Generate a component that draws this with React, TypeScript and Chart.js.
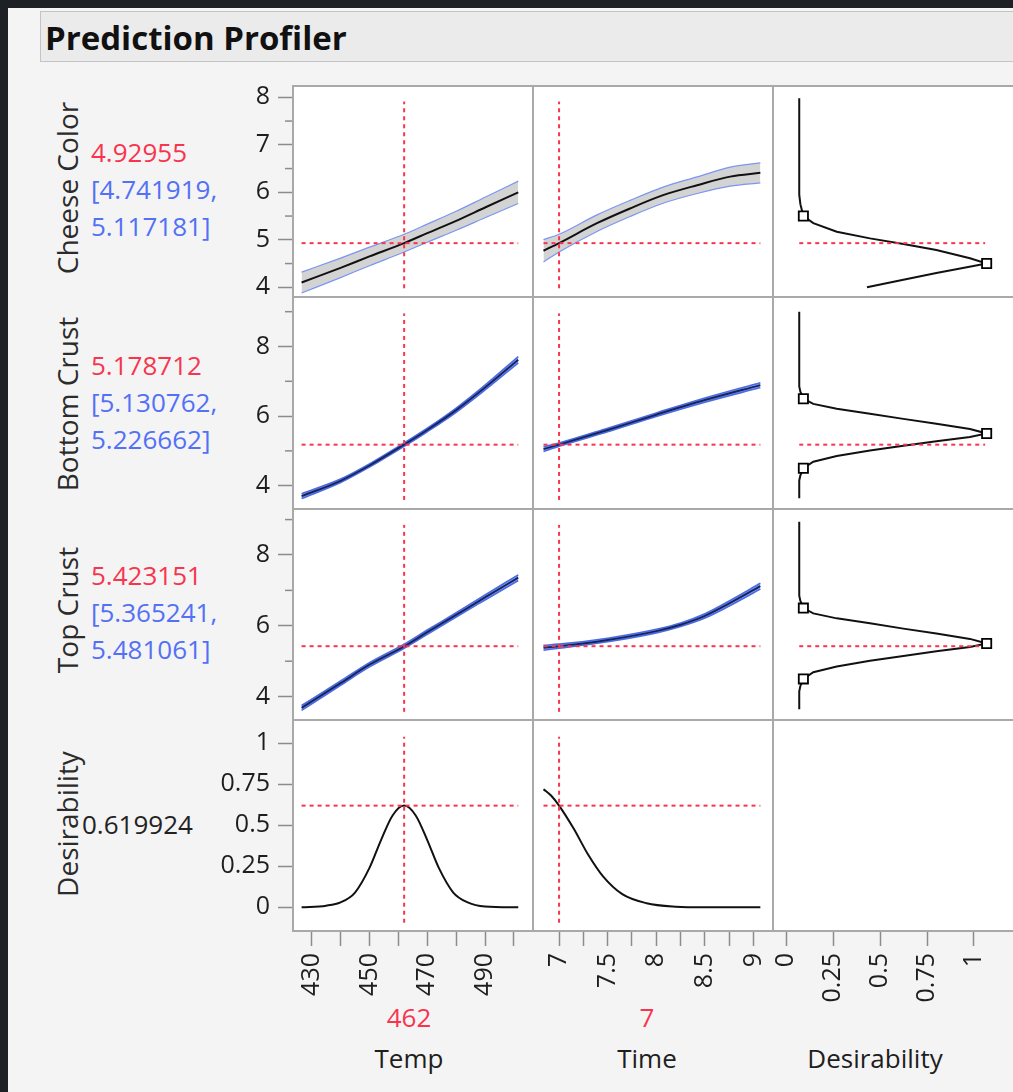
import React, { useEffect, useRef } from "react";
import { Chart, registerables } from "chart.js";
Chart.register(...registerables);

// ---------------- data ----------------
const currentTemp = 462;
const currentTime = 7;
const predicted = [4.92955, 5.178712, 5.423151, 0.619924];
const ciLow = ["4.741919", "5.130762", "5.365241"];
const ciHigh = ["5.117181", "5.226662", "5.481061"];
const predictedText = ["4.92955", "5.178712", "5.423151", "0.619924"];
const responses = ["Cheese Color", "Bottom Crust", "Top Crust", "Desirability"];
const factors = ["Temp", "Time", "Desirability"];
const factorValues = ["462", "7", ""];

const tempPts = [426.5, 440, 450, 462, 470, 480, 490, 501.5];
const cheeseTemp = [4.1, 4.41, 4.65, 4.93, 5.14, 5.4, 5.68, 6.0];
const cheeseTempLo = [3.88, 4.205, 4.455, 4.742, 4.95, 5.2, 5.465, 5.765];
const cheeseTempHi = [4.32, 4.615, 4.845, 5.117, 5.33, 5.6, 5.895, 6.235];

const timePtsA = [6.84, 7.0, 7.39, 7.73, 8.07, 8.42, 8.76, 9.07];
const cheeseTime = [4.77, 4.93, 5.35, 5.66, 5.94, 6.15, 6.33, 6.41];
const cheeseTimeLo = [4.535, 4.742, 5.175, 5.49, 5.77, 5.975, 6.13, 6.2];
const cheeseTimeHi = [5.005, 5.117, 5.525, 5.83, 6.11, 6.325, 6.53, 6.62];

const bottomTemp = [3.7, 4.14, 4.58, 5.18, 5.6, 6.17, 6.82, 7.62];
const bottomTempLo = [3.63, 4.09, 4.535, 5.131, 5.55, 6.11, 6.75, 7.53];
const bottomTempHi = [3.77, 4.19, 4.625, 5.227, 5.65, 6.23, 6.89, 7.71];

const timePtsB = [6.84, 7.0, 7.5, 8.0, 8.5, 9.07];
const bottomTime = [5.05, 5.18, 5.6, 6.04, 6.46, 6.89];
const bottomTimeLo = [4.98, 5.131, 5.55, 5.99, 6.4, 6.82];
const bottomTimeHi = [5.12, 5.227, 5.65, 6.09, 6.52, 6.96];

const topTemp = [3.68, 4.38, 4.9, 5.42, 5.82, 6.31, 6.8, 7.36];
const topTempLo = [3.61, 4.32, 4.84, 5.365, 5.76, 6.25, 6.73, 7.28];
const topTempHi = [3.75, 4.44, 4.96, 5.481, 5.88, 6.37, 6.87, 7.44];

const timePtsC = [6.84, 7.0, 7.5, 8.0, 8.25, 8.5, 8.75, 9.07];
const topTime = [5.38, 5.42, 5.6, 5.85, 6.03, 6.28, 6.63, 7.12];
const topTimeLo = [5.31, 5.365, 5.55, 5.8, 5.98, 6.22, 6.56, 7.04];
const topTimeHi = [5.45, 5.481, 5.65, 5.9, 6.08, 6.34, 6.7, 7.2];

const tempPtsD = [426.5, 435, 440, 445, 450, 454, 458, 462, 466, 470, 474, 479, 484, 490, 501.5];
const desTemp = [0, 0.01, 0.03, 0.09, 0.24, 0.41, 0.56, 0.62, 0.56, 0.41, 0.24, 0.09, 0.03, 0.005, 0];
const timePtsD = [6.84, 6.92, 7.0, 7.15, 7.3, 7.45, 7.65, 7.9, 8.2, 8.5, 9.07];
const desTime = [0.72, 0.68, 0.62, 0.48, 0.32, 0.19, 0.08, 0.025, 0.004, 0, 0];

// desirability functions (x = desirability, y = response)
const cheeseDesD = [0.069, 0.069, 0.075, 0.091, 0.144, 0.269, 0.446, 0.624, 0.8, 0.979, 1.068, 0.8, 0.624, 0.43];
const cheeseDesV = [7.98, 5.95, 5.75, 5.5, 5.35, 5.17, 5.03, 4.91, 4.785, 4.61, 4.5, 4.3, 4.16, 4.0];
const crustDesD = [0.069, 0.069, 0.075, 0.091, 0.144, 0.269, 0.446, 0.624, 0.8, 0.979, 1.068, 0.979, 0.8, 0.624, 0.446, 0.269, 0.144, 0.091, 0.075, 0.069, 0.069];
const bottomDesV = [9.0, 6.85, 6.7, 6.5, 6.35, 6.21, 6.07, 5.92, 5.78, 5.63, 5.5, 5.4, 5.28, 5.15, 5.01, 4.85, 4.69, 4.5, 4.3, 4.15, 3.64];
const topDesV = [8.94, 6.85, 6.7, 6.5, 6.35, 6.21, 6.07, 5.92, 5.78, 5.63, 5.5, 5.4, 5.28, 5.15, 5.01, 4.85, 4.69, 4.5, 4.3, 4.15, 3.64];
const cheeseSqD = [0.091, 1.068];
const cheeseSqV = [5.5, 4.5];
const crustSqD = [0.091, 1.068, 0.091];
const crustSqV = [6.5, 5.5, 4.5];

// crosshair extents
const vLineLo = [3.98, 3.59, 3.57, -0.094];
const vLineHi = [7.91, 8.95, 8.85, 1.04];
const tempSpan = [426.5, 501.5];
const timeSpan = [6.84, 9.07];
const desSpan = [0.069, 1.06];

// axes
const tempRange = [423.53, 506.6];
const timeRange = [6.732, 9.2];
const desRange = [-0.0709, 1.2457];
const rowRanges = [
  [3.796, 8.238],
  [3.33, 9.422],
  [3.339, 9.299],
  [-0.1445, 1.142],
];
const tempTicks = [430, 440, 450, 460, 470, 480, 490, 500];
const tempTickLabels = ["430", "", "450", "", "470", "", "490", ""];
const timeTicks = [7, 7.25, 7.5, 7.75, 8, 8.25, 8.5, 8.75, 9];
const timeTickLabels = ["7", "", "7.5", "", "8", "", "8.5", "", "9"];
const desTicks = [0, 0.25, 0.5, 0.75, 1];
const desTickLabels = ["0", "0.25", "0.5", "0.75", "1"];
const cheeseTicks = [4, 5, 6, 7, 8];
const cheeseTickLabels = ["4", "5", "6", "7", "8"];
const cheeseMinor = [4.5, 5.5, 6.5, 7.5];
const crustTicks = [4, 6, 8];
const crustTickLabels = ["4", "6", "8"];
const crustMinor = [5, 7, 9];
const desYTicks = [0, 0.25, 0.5, 0.75, 1];
const desYTickLabels = ["0", "0.25", "0.5", "0.75", "1"];

// ---------------- styling / layout ----------------
const FONT = '"Open Sans", "Noto Sans", sans-serif';
const RED = "#f8354f";
const BLUE_TXT = "#5370f6";
const FRAME = "#a9a9a9";
const TICK = "#8c8c8c";
const COLS = [
  [293, 533],
  [533, 773],
  [773, 1020],
];
const ROWS = [
  [86, 297],
  [297, 509],
  [509, 720],
  [720, 931],
];
const AXW = 90;
const AXH = 80;
const M = 30;

const pts = (xs: number[], ys: number[]) => xs.map((x, i) => ({ x, y: ys[i] }));

function crossV(x: number, lo: number, hi: number) {
  return {
    data: [
      { x, y: lo },
      { x, y: hi },
    ],
    borderColor: RED,
    borderWidth: 2,
    borderDash: [4, 4],
    pointRadius: 0,
    tension: 0,
    fill: false,
  };
}
function crossH(span: number[], y: number) {
  return {
    data: [
      { x: span[0], y },
      { x: span[1], y },
    ],
    borderColor: RED,
    borderWidth: 2,
    borderDash: [4, 4],
    pointRadius: 0,
    tension: 0,
    fill: false,
  };
}
function curve(xs: number[], ys: number[], color = "#111111") {
  return {
    data: pts(xs, ys),
    borderColor: color,
    borderWidth: 2,
    pointRadius: 0,
    cubicInterpolationMode: "monotone",
    fill: false,
  };
}
function bandLines(xs: number[], lo: number[], hi: number[], narrow: boolean) {
  const line = narrow ? "#4a6be4" : "#7b96f0";
  const fillC = narrow ? "rgba(74,107,228,0.6)" : "#d3d3d3";
  return [
    {
      data: pts(xs, hi),
      borderColor: line,
      borderWidth: narrow ? 1.6 : 1.2,
      backgroundColor: fillC,
      fill: "+1",
      pointRadius: 0,
      cubicInterpolationMode: "monotone",
    },
    {
      data: pts(xs, lo),
      borderColor: line,
      borderWidth: narrow ? 1.6 : 1.2,
      fill: false,
      pointRadius: 0,
      cubicInterpolationMode: "monotone",
    },
  ];
}
function desCurve(ds: number[], vs: number[]) {
  return {
    data: pts(ds, vs),
    borderColor: "#111111",
    borderWidth: 2,
    pointRadius: 0,
    tension: 0,
    fill: false,
  };
}
function squares(ds: number[], vs: number[]) {
  return {
    data: pts(ds, vs),
    showLine: false,
    pointStyle: "rect",
    pointRadius: 6.5,
    pointBackgroundColor: "#ffffff",
    pointBorderColor: "#000000",
    pointBorderWidth: 1.8,
    fill: false,
  };
}

type Spec = {
  col: number;
  row: number;
  showX: boolean;
  showY: boolean;
  xr: number[];
  yr: number[];
  xTicks: number[];
  xLabels: string[];
  yTicks: number[];
  yLabels: string[];
  yMinor: number[];
  datasets: any[];
};

const xAxes = [
  { r: tempRange, t: tempTicks, l: tempTickLabels },
  { r: timeRange, t: timeTicks, l: timeTickLabels },
  { r: desRange, t: desTicks, l: desTickLabels },
];
const yAxes = [
  { t: cheeseTicks, l: cheeseTickLabels, m: cheeseMinor },
  { t: crustTicks, l: crustTickLabels, m: crustMinor },
  { t: crustTicks, l: crustTickLabels, m: crustMinor },
  { t: desYTicks, l: desYTickLabels, m: [] as number[] },
];

const NAVY = "#16245e";
const cellData: any[][] = [
  [
    [crossV(currentTemp, vLineLo[0], vLineHi[0]), crossH(tempSpan, predicted[0]), curve(tempPts, cheeseTemp), ...bandLines(tempPts, cheeseTempLo, cheeseTempHi, false)],
    [crossV(currentTime, vLineLo[0], vLineHi[0]), crossH(timeSpan, predicted[0]), curve(timePtsA, cheeseTime), ...bandLines(timePtsA, cheeseTimeLo, cheeseTimeHi, false)],
    [squares(cheeseSqD, cheeseSqV), crossH(desSpan, predicted[0]), desCurve(cheeseDesD, cheeseDesV)],
  ],
  [
    [crossV(currentTemp, vLineLo[1], vLineHi[1]), crossH(tempSpan, predicted[1]), curve(tempPts, bottomTemp, NAVY), ...bandLines(tempPts, bottomTempLo, bottomTempHi, true)],
    [crossV(currentTime, vLineLo[1], vLineHi[1]), crossH(timeSpan, predicted[1]), curve(timePtsB, bottomTime, NAVY), ...bandLines(timePtsB, bottomTimeLo, bottomTimeHi, true)],
    [squares(crustSqD, crustSqV), crossH(desSpan, predicted[1]), desCurve(crustDesD, bottomDesV)],
  ],
  [
    [crossV(currentTemp, vLineLo[2], vLineHi[2]), crossH(tempSpan, predicted[2]), curve(tempPts, topTemp, NAVY), ...bandLines(tempPts, topTempLo, topTempHi, true)],
    [crossV(currentTime, vLineLo[2], vLineHi[2]), crossH(timeSpan, predicted[2]), curve(timePtsC, topTime, NAVY), ...bandLines(timePtsC, topTimeLo, topTimeHi, true)],
    [squares(crustSqD, crustSqV), crossH(desSpan, predicted[2]), desCurve(crustDesD, topDesV)],
  ],
  [
    [crossV(currentTemp, vLineLo[3], vLineHi[3]), crossH(tempSpan, predicted[3]), curve(tempPtsD, desTemp)],
    [crossV(currentTime, vLineLo[3], vLineHi[3]), crossH(timeSpan, predicted[3]), curve(timePtsD, desTime)],
    [],
  ],
];

const specs: Spec[] = [];
for (let r = 0; r < 4; r++) {
  for (let c = 0; c < 3; c++) {
    specs.push({
      col: c,
      row: r,
      showX: r === 3,
      showY: c === 0,
      xr: xAxes[c].r,
      yr: rowRanges[r],
      xTicks: xAxes[c].t,
      xLabels: xAxes[c].l,
      yTicks: yAxes[r].t,
      yLabels: yAxes[r].l,
      yMinor: yAxes[r].m,
      datasets: cellData[r][c],
    });
  }
}

function canvasBox(s: Spec) {
  const [x0, x1] = COLS[s.col];
  const [y0, y1] = ROWS[s.row];
  const left = s.showY ? x0 - AXW : x0 - M;
  const top = y0 - M;
  const right = x1 + M;
  const bottom = s.showX ? y1 + AXH : y1 + M;
  return { left, top, width: right - left, height: bottom - top };
}

function makeChart(canvas: HTMLCanvasElement, s: Spec) {
  const framePlugin = {
    id: "cellFrame",
    beforeDraw(chart: any) {
      const a = chart.chartArea;
      const c = chart.ctx;
      c.save();
      c.fillStyle = "#ffffff";
      c.fillRect(a.left, a.top, a.right - a.left, a.bottom - a.top);
      c.restore();
    },
    afterDraw(chart: any) {
      const a = chart.chartArea;
      const c = chart.ctx;
      c.save();
      if (s.showY) {
        const ys = chart.scales.y;
        c.strokeStyle = TICK;
        c.lineWidth = 1.5;
        s.yMinor.forEach((v) => {
          const p = ys.getPixelForValue(v);
          c.beginPath();
          c.moveTo(a.left - 8, p);
          c.lineTo(a.left, p);
          c.stroke();
        });
      }
      c.strokeStyle = FRAME;
      c.lineWidth = 2;
      c.strokeRect(a.left, a.top, a.right - a.left, a.bottom - a.top);
      c.restore();
    },
  };
  const tickFont = { family: FONT, size: 25 };
  return new Chart(canvas, {
    type: "line",
    data: { datasets: s.datasets },
    options: {
      animation: false,
      responsive: false,
      maintainAspectRatio: false,
      devicePixelRatio: 1,
      events: [],
      layout: {
        padding: { left: s.showY ? 0 : M, right: M, top: M, bottom: s.showX ? 0 : M },
      },
      plugins: {
        legend: { display: false },
        tooltip: { enabled: false },
        filler: { drawTime: "beforeDatasetsDraw" },
      },
      scales: {
        x: {
          type: "linear",
          position: "bottom",
          display: s.showX,
          min: s.xr[0],
          max: s.xr[1],
          bounds: "data",
          afterBuildTicks: (sc: any) => {
            sc.ticks = s.xTicks.map((v) => ({ value: v }));
          },
          afterFit: s.showX
            ? (sc: any) => {
                sc.height = AXH;
              }
            : undefined,
          ticks: {
            autoSkip: false,
            minRotation: 90,
            maxRotation: 90,
            padding: 7,
            color: "#1e1e1e",
            font: tickFont,
            callback: (_v: any, i: number) => s.xLabels[i],
          },
          grid: {
            drawOnChartArea: false,
            drawTicks: true,
            tickLength: 15,
            color: TICK,
            tickColor: TICK,
            tickWidth: 1.5,
          },
          border: { display: false },
        },
        y: {
          type: "linear",
          position: "left",
          display: s.showY,
          min: s.yr[0],
          max: s.yr[1],
          bounds: "data",
          afterBuildTicks: (sc: any) => {
            sc.ticks = s.yTicks.map((v) => ({ value: v }));
          },
          afterFit: s.showY
            ? (sc: any) => {
                sc.width = AXW;
              }
            : undefined,
          ticks: {
            autoSkip: false,
            padding: 8,
            color: "#1e1e1e",
            font: tickFont,
            callback: (_v: any, i: number) => s.yLabels[i],
          },
          grid: {
            drawOnChartArea: false,
            drawTicks: true,
            tickLength: 15,
            color: TICK,
            tickColor: TICK,
            tickWidth: 1.5,
          },
          border: { display: false },
        },
      },
    } as any,
    plugins: [framePlugin],
  } as any);
}

// ---------------- text layout ----------------
const rowLabelY = [188, 404, 610, 824];
const valueLinesY = [
  [152, 189, 226],
  [365, 402, 439],
  [575, 612, 649],
];
const factorX = [409, 647, 875];

export default function App() {
  const refs = useRef<(HTMLCanvasElement | null)[]>([]);
  useEffect(() => {
    const charts = specs.map((s, i) => makeChart(refs.current[i] as HTMLCanvasElement, s));
    return () => charts.forEach((c) => c.destroy());
  }, []);

  const abs = (extra: any) => ({ position: "absolute" as const, fontFamily: FONT, whiteSpace: "nowrap" as const, lineHeight: 1, ...extra });

  return (
    <div style={{ position: "fixed", left: 0, top: 0, width: 1013, height: 1092, background: "#1d2126", overflow: "hidden" }}>
      <div style={{ position: "absolute", left: 8, top: 8, right: 0, bottom: 0, background: "#f4f4f4" }} />
      <div
        style={{
          position: "absolute",
          left: 40,
          top: 11,
          width: 1000,
          height: 51,
          boxSizing: "border-box",
          background: "#ebebeb",
          border: "1.5px solid #c4c4c4",
        }}
      />
      <div style={abs({ left: 45, top: 37, transform: "translateY(-50%)", fontSize: 33, fontWeight: 700, color: "#111" })}>
        Prediction Profiler
      </div>

      {responses.map((r, i) => (
        <div
          key={"rl" + i}
          style={abs({ left: 67, top: rowLabelY[i], transform: "translate(-50%,-50%) rotate(-90deg)", fontSize: 28, color: "#2b2b2b" })}
        >
          {r}
        </div>
      ))}
      {valueLinesY.map((ys, i) => (
        <React.Fragment key={"v" + i}>
          <div style={abs({ left: 91, top: ys[0], transform: "translateY(-50%)", fontSize: 26, color: RED })}>{predictedText[i]}</div>
          <div style={abs({ left: 91, top: ys[1], transform: "translateY(-50%)", fontSize: 26, color: BLUE_TXT })}>{"[" + ciLow[i] + ","}</div>
          <div style={abs({ left: 91, top: ys[2], transform: "translateY(-50%)", fontSize: 26, color: BLUE_TXT })}>{ciHigh[i] + "]"}</div>
        </React.Fragment>
      ))}
      <div style={abs({ left: 82, top: 824, transform: "translateY(-50%)", fontSize: 26, color: "#222" })}>{predictedText[3]}</div>

      {factors.map((f, i) => (
        <React.Fragment key={"f" + i}>
          {factorValues[i] ? (
            <div style={abs({ left: factorX[i], top: 1017, transform: "translate(-50%,-50%)", fontSize: 26, color: RED })}>{factorValues[i]}</div>
          ) : null}
          <div style={abs({ left: factorX[i], top: 1058, transform: "translate(-50%,-50%)", fontSize: 26, color: "#1e1e1e" })}>{f}</div>
        </React.Fragment>
      ))}

      {specs.map((s, i) => {
        const b = canvasBox(s);
        return (
          <canvas
            key={"c" + i}
            ref={(el) => {
              refs.current[i] = el;
            }}
            width={b.width}
            height={b.height}
            style={{ position: "absolute", left: b.left, top: b.top, width: b.width, height: b.height }}
          />
        );
      })}
    </div>
  );
}
